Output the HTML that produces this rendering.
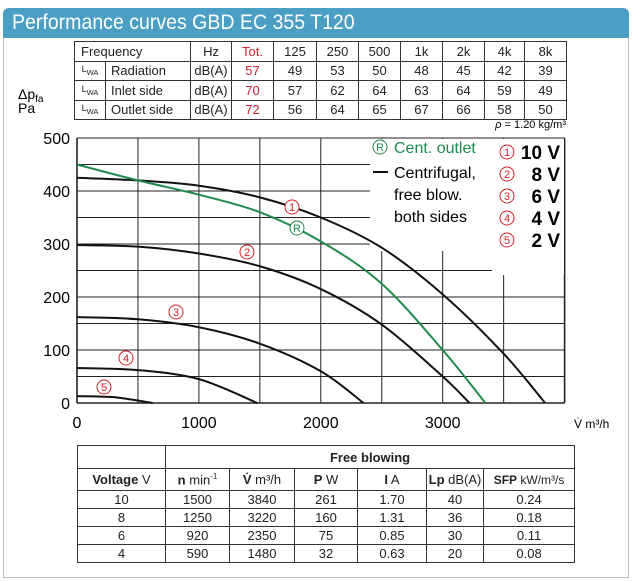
<!DOCTYPE html>
<html><head><meta charset="utf-8"><style>
body{margin:0;width:632px;height:581px;background:#fff;font-family:"Liberation Sans",sans-serif;position:relative;overflow:hidden}
.frame{position:absolute;left:3px;top:8px;width:624px;height:568px;border:1px solid #bbb;border-radius:6px 6px 0 0}
.hdr{position:absolute;left:3px;top:8px;width:626px;height:30px;background:#4b9ec4;border-radius:6px 6px 0 0;color:#fff;font-size:21px;line-height:30px;padding-left:9px;box-sizing:border-box}
.hdr span{display:inline-block;transform:scaleX(0.93);transform-origin:left}
table{border-collapse:collapse;position:absolute;table-layout:fixed}
td{border:1px solid #333;padding:0;text-align:center;font-size:13px;color:#222;white-space:nowrap;overflow:hidden}
.t1 td{height:18.5px}
.r{color:#d2232a}
.t2 td{height:17px}
</style></head><body>
<div class="frame"></div>
<div class="hdr"><span>Performance curves GBD EC 355 T120</span></div>
<table class="t1" style="left:74px;top:41px;width:492px">
<colgroup><col style="width:31px"><col style="width:85px"><col style="width:41px"><col style="width:42px"><col style="width:43px"><col style="width:42px"><col style="width:42px"><col style="width:42px"><col style="width:42px"><col style="width:40px"><col style="width:42px"></colgroup>
<tr><td colspan="2" style="text-align:left;padding-left:6px">Frequency</td><td>Hz</td><td class="r">Tot.</td><td>125</td><td>250</td><td>500</td><td>1k</td><td>2k</td><td>4k</td><td>8k</td></tr>
<tr><td style="font-size:9px">L<sub>WA</sub></td><td style="text-align:left;padding-left:5px">Radiation</td><td>dB(A)</td><td class="r">57</td><td>49</td><td>53</td><td>50</td><td>48</td><td>45</td><td>42</td><td>39</td></tr>
<tr><td style="font-size:9px">L<sub>WA</sub></td><td style="text-align:left;padding-left:5px">Inlet side</td><td>dB(A)</td><td class="r">70</td><td>57</td><td>62</td><td>64</td><td>63</td><td>64</td><td>59</td><td>49</td></tr>
<tr><td style="font-size:9px">L<sub>WA</sub></td><td style="text-align:left;padding-left:5px">Outlet side</td><td>dB(A)</td><td class="r">72</td><td>56</td><td>64</td><td>65</td><td>67</td><td>66</td><td>58</td><td>50</td></tr>
</table>
<svg id="s" width="632" height="581" style="position:absolute;left:0;top:0" font-family="Liberation Sans,sans-serif"></svg>
<table class="t2" style="left:77px;top:445px;width:497px">
<colgroup><col style="width:88px"><col style="width:64px"><col style="width:65px"><col style="width:63px"><col style="width:69px"><col style="width:57px"><col style="width:91px"></colgroup>
<tr><td style="height:22px"></td><td colspan="6" style="font-weight:bold">Free blowing</td></tr>
<tr><td style="height:21px"><b>Voltage</b> V</td><td><b>n</b> min<sup style="font-size:8px">-1</sup></td><td><b>V̇</b> m³/h</td><td><b>P</b> W</td><td><b>I</b> A</td><td><b>Lp</b> dB(A)</td><td style="font-size:12px"><b>SFP</b> kW/m³/s</td></tr>
<tr><td>10</td><td>1500</td><td>3840</td><td>261</td><td>1.70</td><td>40</td><td>0.24</td></tr>
<tr><td>8</td><td>1250</td><td>3220</td><td>160</td><td>1.31</td><td>36</td><td>0.18</td></tr>
<tr><td>6</td><td>920</td><td>2350</td><td>75</td><td>0.85</td><td>30</td><td>0.11</td></tr>
<tr><td>4</td><td>590</td><td>1480</td><td>32</td><td>0.63</td><td>20</td><td>0.08</td></tr>
</table>
<script>
const X=v=>77+v*0.1219,Y=p=>403-p*0.53;let h='';
for(let i=0;i<=8;i++){const x=X(i*500);h+=`<line x1="${x}" y1="138" x2="${x}" y2="403" stroke="#222" stroke-width="${i==0||i==8?1.6:1}"/>`;}
for(let j=0;j<=10;j++){const y=Y(j*50);h+=`<line x1="77" y1="${y}" x2="${X(4000)}" y2="${y}" stroke="#222" stroke-width="${j==0?1.6:1}"/>`;}
for(let j=0;j<=5;j++)h+=`<text x="70" y="${Y(j*100)+6}" font-size="16" text-anchor="end">${j*100}</text>`;
for(let i=0;i<=3;i++)h+=`<text x="${X(i*1000)}" y="428" font-size="16" text-anchor="middle">${i*1000}</text>`;
h+=`<rect x="370" y="139" width="122" height="112" fill="#fff"/><rect x="492" y="139" width="72" height="136" fill="#fff"/>`;
function path(pts,c){const P=pts.map(([a,b])=>[X(a),Y(b)]);let d=`M${P[0][0]},${P[0][1]}`;for(let i=0;i<P.length-1;i++){const p0=P[Math.max(i-1,0)],p1=P[i],p2=P[i+1],p3=P[Math.min(i+2,P.length-1)];d+=` C${p1[0]+(p2[0]-p0[0])/6},${p1[1]+(p2[1]-p0[1])/6} ${p2[0]-(p3[0]-p1[0])/6},${p2[1]-(p3[1]-p1[1])/6} ${p2[0]},${p2[1]}`;}return `<path d="${d}" fill="none" stroke="${c}" stroke-width="2"/>`;}
h+=path([[0,425],[500,420],[1000,410],[1500,388],[2000,350],[2500,293],[3000,205],[3500,93],[3840,0]],'#111');
h+=path([[0,298],[500,295],[1000,282],[1500,258],[2000,215],[2500,148],[3000,50],[3220,0]],'#111');
h+=path([[0,162],[500,158],[1000,143],[1500,112],[2000,60],[2350,0]],'#111');
h+=path([[0,66],[500,62],[1000,45],[1480,0]],'#111');
h+=path([[0,13],[300,11],[620,0]],'#111');
h+=path([[0,450],[500,420],[1000,393],[1500,360],[2000,305],[2500,225],[3000,100],[3350,0]],'#1f8a4c');
const lab=(x,y,t,c)=>h+=`<circle cx="${x}" cy="${y}" r="7" fill="#fff" stroke="${c}" stroke-width="1"/><text x="${x}" y="${y+4}" font-size="11" fill="${c}" text-anchor="middle">${t}</text>`;
lab(292,207,1,'#d2232a');lab(247,252,2,'#d2232a');lab(176,312,3,'#d2232a');lab(126,358,4,'#d2232a');lab(104,387,5,'#d2232a');lab(297,228,'R','#1f8a4c');
lab(380,147,'R','#1f8a4c');
h+=`<text x="394" y="153" font-size="16" fill="#1f8a4c">Cent. outlet</text><line x1="373" y1="172" x2="388" y2="172" stroke="#111" stroke-width="2"/>`;
['Centrifugal,','free blow.','both sides'].forEach((t,i)=>h+=`<text x="394" y="${178+i*22}" font-size="16">${t}</text>`);
['10 V','8 V','6 V','4 V','2 V'].forEach((t,i)=>{lab(507,152+i*22,i+1,'#d2232a');h+=`<text x="560" y="${159+i*22}" font-size="19" font-weight="bold" text-anchor="end">${t}</text>`;});
h+=`<text x="566" y="128" font-size="11" text-anchor="end"><tspan font-style="italic">ρ</tspan> = 1.20 kg/m³</text>`;
h+=`<text x="18" y="99" font-size="14">Δp<tspan font-size="10" dy="3">fa</tspan></text><text x="18" y="113" font-size="14">Pa</text>`;
h+=`<text x="574" y="428" font-size="12">V̇  m³/h</text>`;
document.getElementById('s').innerHTML=h;
</script>
</body></html>
